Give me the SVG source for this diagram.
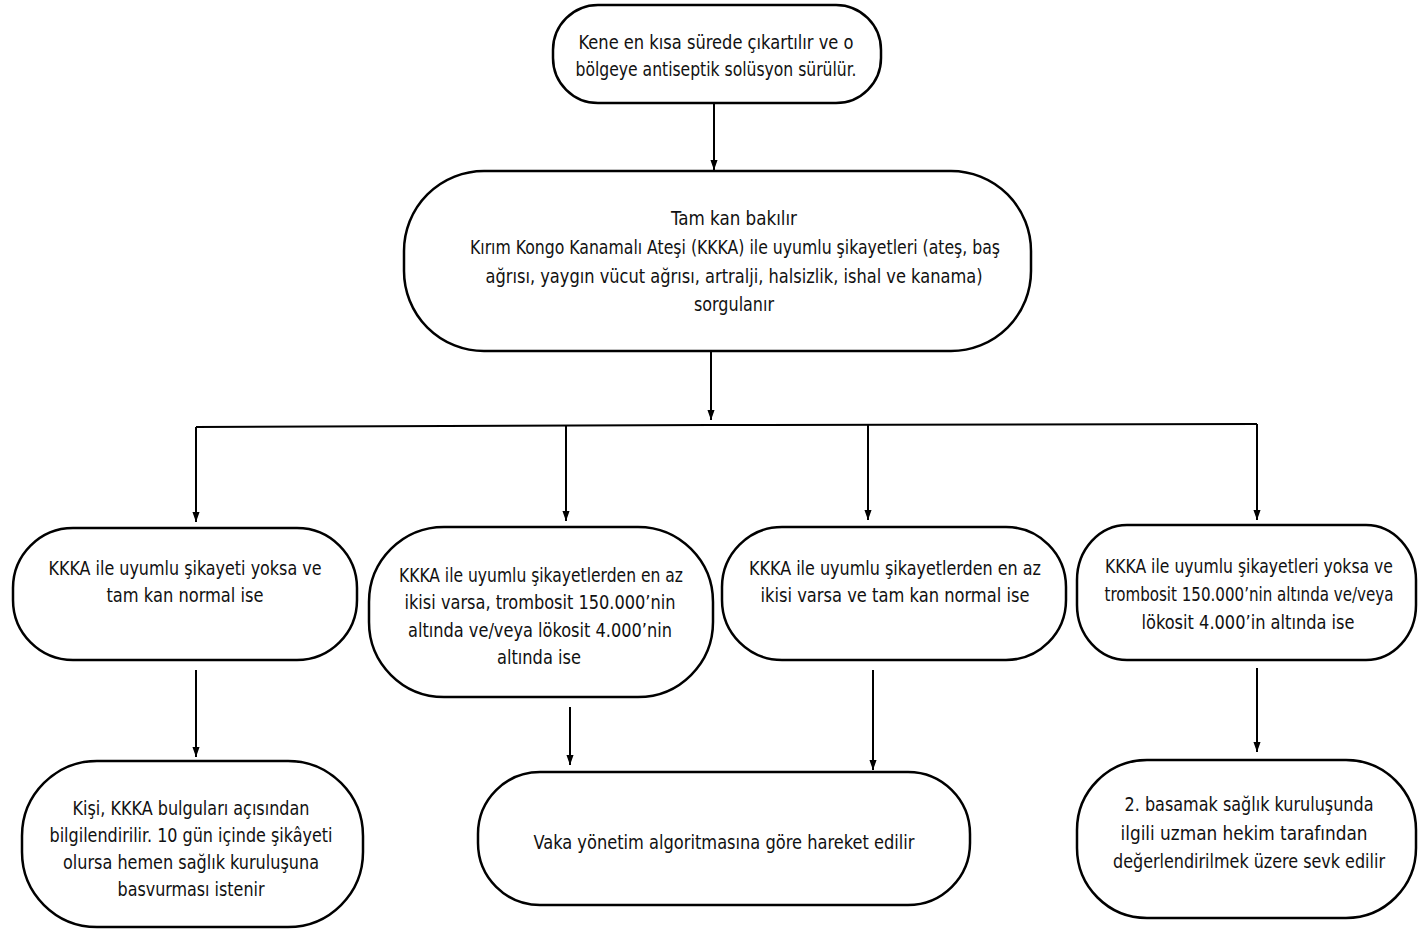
<svg xmlns="http://www.w3.org/2000/svg" width="1418" height="929" viewBox="0 0 1418 929">
<style>
.box{fill:#fff;stroke:#000;stroke-width:2.5}
.t{font-family:"DejaVu Sans Condensed","DejaVu Sans","Liberation Sans",sans-serif;font-size:20px;fill:#111;text-anchor:middle}
.c{stroke:#000;stroke-width:2;fill:none}
</style>
<defs>
<marker id="arr" markerWidth="10" markerHeight="14" refX="14" refY="5" orient="auto" markerUnits="userSpaceOnUse" viewBox="0 0 14 10">
<path d="M0,0 L14,5 L0,10 Z" fill="#000"/>
</marker>
</defs>
<rect width="1418" height="929" fill="#fff"/>
<g id="connectors">
<line class="c" x1="714" y1="104" x2="714" y2="170" marker-end="url(#arr)"/>
<line class="c" x1="711" y1="351" x2="711" y2="420" marker-end="url(#arr)"/>
<polyline class="c" points="196,427 711,425 1257,424"/>
<line class="c" x1="196" y1="427" x2="196" y2="522" marker-end="url(#arr)"/>
<line class="c" x1="566" y1="426" x2="566" y2="521" marker-end="url(#arr)"/>
<line class="c" x1="868" y1="425" x2="868" y2="520" marker-end="url(#arr)"/>
<line class="c" x1="1257" y1="424" x2="1257" y2="520" marker-end="url(#arr)"/>
<line class="c" x1="196" y1="670" x2="196" y2="757" marker-end="url(#arr)"/>
<line class="c" x1="570" y1="707" x2="570" y2="765" marker-end="url(#arr)"/>
<line class="c" x1="873" y1="670" x2="873" y2="770" marker-end="url(#arr)"/>
<line class="c" x1="1257" y1="668" x2="1257" y2="752" marker-end="url(#arr)"/>
</g>
<g id="n1">
<rect class="box" x="553" y="5" width="328" height="98" rx="45" ry="45"/>
<text class="t" x="716" y="49" textLength="275" lengthAdjust="spacingAndGlyphs">Kene en kısa sürede çıkartılır ve o</text>
<text class="t" x="716" y="76" textLength="281" lengthAdjust="spacingAndGlyphs">bölgeye antiseptik solüsyon sürülür.</text>
</g>
<g id="n2">
<rect class="box" x="404" y="171" width="627" height="180" rx="80" ry="80"/>
<text class="t" x="734" y="225" textLength="126" lengthAdjust="spacingAndGlyphs">Tam kan bakılır</text>
<text class="t" x="735" y="254" textLength="530" lengthAdjust="spacingAndGlyphs">Kırım Kongo Kanamalı Ateşi (KKKA) ile uyumlu şikayetleri (ateş, baş</text>
<text class="t" x="734" y="283" textLength="497" lengthAdjust="spacingAndGlyphs">ağrısı, yaygın vücut ağrısı, artralji, halsizlik, ishal ve kanama)</text>
<text class="t" x="734" y="311" textLength="80" lengthAdjust="spacingAndGlyphs">sorgulanır</text>
</g>
<g id="n3">
<rect class="box" x="13" y="528" width="344" height="132" rx="60" ry="60"/>
<text class="t" x="185" y="575" textLength="273" lengthAdjust="spacingAndGlyphs">KKKA ile uyumlu şikayeti yoksa ve</text>
<text class="t" x="185" y="602" textLength="157" lengthAdjust="spacingAndGlyphs">tam kan normal ise</text>
</g>
<g id="n4">
<rect class="box" x="369" y="527" width="344" height="170" rx="75" ry="75"/>
<text class="t" x="541" y="582" textLength="284" lengthAdjust="spacingAndGlyphs">KKKA ile uyumlu şikayetlerden en az</text>
<text class="t" x="540" y="609" textLength="271" lengthAdjust="spacingAndGlyphs">ikisi varsa, trombosit 150.000’nin</text>
<text class="t" x="540" y="637" textLength="264" lengthAdjust="spacingAndGlyphs">altında ve/veya lökosit 4.000’nin</text>
<text class="t" x="539" y="664" textLength="84" lengthAdjust="spacingAndGlyphs">altında ise</text>
</g>
<g id="n5">
<rect class="box" x="722" y="527" width="344" height="133" rx="60" ry="60"/>
<text class="t" x="895" y="575" textLength="292" lengthAdjust="spacingAndGlyphs">KKKA ile uyumlu şikayetlerden en az</text>
<text class="t" x="895" y="602" textLength="269" lengthAdjust="spacingAndGlyphs">ikisi varsa ve tam kan normal ise</text>
</g>
<g id="n6">
<rect class="box" x="1077" y="525" width="339" height="135" rx="50" ry="55"/>
<text class="t" x="1249" y="573" textLength="288" lengthAdjust="spacingAndGlyphs">KKKA ile uyumlu şikayetleri yoksa ve</text>
<text class="t" x="1249" y="601" textLength="289" lengthAdjust="spacingAndGlyphs">trombosit 150.000’nin altında ve/veya</text>
<text class="t" x="1248" y="629" textLength="213" lengthAdjust="spacingAndGlyphs">lökosit 4.000’in altında ise</text>
</g>
<g id="n7">
<rect class="box" x="22" y="761" width="341" height="166" rx="75" ry="75"/>
<text class="t" x="191" y="815" textLength="237" lengthAdjust="spacingAndGlyphs">Kişi, KKKA bulguları açısından</text>
<text class="t" x="191" y="842" textLength="283" lengthAdjust="spacingAndGlyphs">bilgilendirilir. 10 gün içinde şikâyeti</text>
<text class="t" x="191" y="869" textLength="256" lengthAdjust="spacingAndGlyphs">olursa hemen sağlık kuruluşuna</text>
<text class="t" x="191" y="896" textLength="147" lengthAdjust="spacingAndGlyphs">basvurması istenir</text>
</g>
<g id="n8">
<rect class="box" x="478" y="772" width="492" height="133" rx="62" ry="62"/>
<text class="t" x="724" y="849" textLength="381" lengthAdjust="spacingAndGlyphs">Vaka yönetim algoritmasına göre hareket edilir</text>
</g>
<g id="n9">
<rect class="box" x="1077" y="760" width="339" height="158" rx="70" ry="70"/>
<text class="t" x="1249" y="811" textLength="249" lengthAdjust="spacingAndGlyphs">2. basamak sağlık kuruluşunda</text>
<text class="t" x="1244" y="840" textLength="247" lengthAdjust="spacingAndGlyphs">ilgili uzman hekim tarafından</text>
<text class="t" x="1249" y="868" textLength="272" lengthAdjust="spacingAndGlyphs">değerlendirilmek üzere sevk edilir</text>
</g>
</svg>
